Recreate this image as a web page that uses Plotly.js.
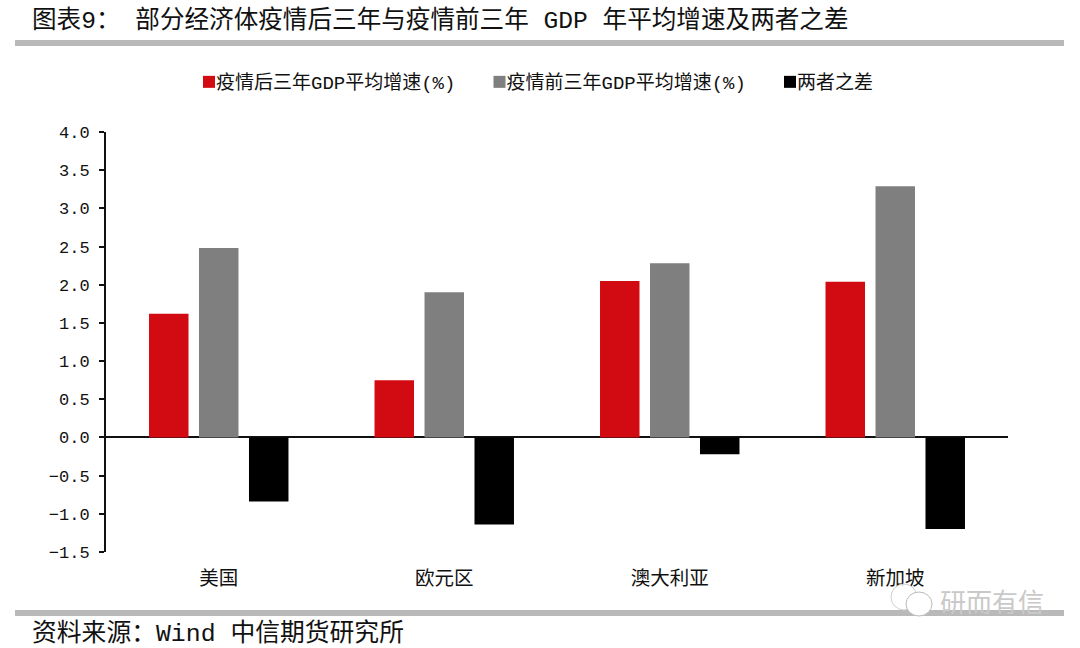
<!DOCTYPE html>
<html>
<head>
<meta charset="utf-8">
<script src="https://cdn.plot.ly/plotly-3.0.1.min.js"></script>
<style>html,body{margin:0;padding:0;background:#fff}</style>
</head>
<body>
<div id="chart" style="width:1080px;height:648px"></div>
<script>
const categories = ["美国", "欧元区", "澳大利亚", "新加坡"];
const afterName = "疫情后三年GDP平均增速(%)";
const beforeName = "疫情前三年GDP平均增速(%)";
const diffName = "两者之差";
const afterValues = [1.62, 0.75, 2.05, 2.04];
const beforeValues = [2.48, 1.90, 2.28, 3.29];
const diffValues = [-0.84, -1.14, -0.22, -1.20];
const yTicks = [4.0, 3.5, 3.0, 2.5, 2.0, 1.5, 1.0, 0.5, 0.0, -0.5, -1.0, -1.5];
const titleText = "图表9： 部分经济体疫情后三年与疫情前三年 GDP 年平均增速及两者之差";
const sourceText = "资料来源：Wind 中信期货研究所";
const watermark = "研而有信";

const FONT = '"Liberation Mono", "Noto Sans CJK SC", monospace';
const CJK = '"Noto Sans CJK SC", "Noto Sans", sans-serif';
const RULE = "#b9b9b9";

const traces = [
  {type: "bar", name: afterName, x: categories, y: afterValues, marker: {color: "#d20a11"}},
  {type: "bar", name: beforeName, x: categories, y: beforeValues, marker: {color: "#7f7f7f"}},
  {type: "bar", name: diffName, x: categories, y: diffValues, marker: {color: "#000000"}}
];

const layout = {
  width: 1080, height: 648,
  paper_bgcolor: "#fff", plot_bgcolor: "#fff",
  font: {family: FONT, color: "#111"},
  margin: {l: 106, r: 72, t: 132, b: 96, pad: 0},
  barmode: "group", bargap: 0.335, bargroupgap: 0.21,
  title: {text: titleText, font: {family: FONT, size: 24.6, color: "#111"},
          x: 32 / 1080, xanchor: "left", xref: "container", y: 1 - 19 / 648, yanchor: "middle", yref: "container"},
  showlegend: true,
  legend: {orientation: "h", x: 189 / 1080, xref: "container", xanchor: "left", y: 1 - 82 / 648, yref: "container", yanchor: "middle",
           font: {family: FONT, size: 19, color: "#111"}, itemclick: false, itemdoubleclick: false,
           entrywidthmode: "pixels", entrywidth: 245.5, traceorder: "normal", bgcolor: "rgba(0,0,0,0)"},
  xaxis: {type: "category", showline: false, ticks: "", showgrid: false, zeroline: false,
          tickfont: {family: CJK, size: 19.5, color: "#111"}, ticklabelstandoff: 12, automargin: false},
  yaxis: {range: [-1.5, 4.0], tickvals: yTicks, tickformat: ".1f", showgrid: false,
          showline: true, linecolor: "#111", linewidth: 2, ticks: "outside", ticklen: 5, tickwidth: 2, tickcolor: "#111",
          zeroline: true, zerolinecolor: "#111", zerolinewidth: 2, ticklabelstandoff: 6,
          tickfont: {family: '"Liberation Mono", monospace', size: 17, color: "#111"}, automargin: false},
  shapes: [
    {type: "rect", xref: "paper", yref: "paper", layer: "below", x0: (15-106)/902, x1: (1064-106)/902,
     y0: (552-46)/420, y1: (552-40)/420, fillcolor: RULE, line: {width: 0}},
    {type: "rect", xref: "paper", yref: "paper", layer: "below", x0: (15-106)/902, x1: (1064-106)/902,
     y0: (552-616)/420, y1: (552-610)/420, fillcolor: RULE, line: {width: 0}},
    {type: "circle", xref: "paper", yref: "paper", x0: (891-106)/902, x1: (917-106)/902,
     y0: (552-610)/420, y1: (552-584)/420, fillcolor: "rgba(255,255,255,0.85)", line: {color: "#d0d0d0", width: 1}},
    {type: "circle", xref: "paper", yref: "paper", x0: (906-106)/902, x1: (932-106)/902,
     y0: (552-616)/420, y1: (552-592)/420, fillcolor: "#fff", line: {color: "#bbbbbb", width: 1}}
  ],
  annotations: [
    {text: sourceText, xref: "paper", yref: "paper", x: (30-106)/902, y: (552-633)/420, xanchor: "left", yanchor: "middle",
     showarrow: false, font: {family: FONT, size: 24.8, color: "#111"}},
    {text: watermark, xref: "paper", yref: "paper", x: (938-106)/902, y: (552-600)/420, xanchor: "left", yanchor: "middle",
     showarrow: false, font: {family: CJK, size: 26, color: "#c9c9c9"}}
  ]
};

Plotly.newPlot("chart", traces, layout, {displayModeBar: false}).then(gd => {
  // tuck the label right next to the swatch, as in the reference
  gd.querySelectorAll(".legend .traces .legendtext").forEach(t => {
    t.setAttribute("x", parseFloat(t.getAttribute("x")) - 13);
  });
});
</script>
</body>
</html>
